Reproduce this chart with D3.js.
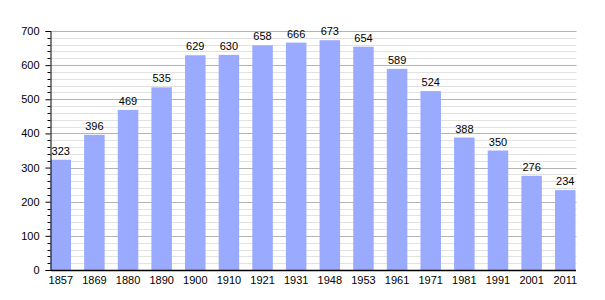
<!DOCTYPE html>
<html>
<head>
<meta charset="utf-8">
<script src="https://cdn.jsdelivr.net/npm/d3@7"></script>
<style>
  body { margin: 0; background: #fff; }
  text { font-family: "Liberation Sans", Arial, sans-serif; font-size: 11px; fill: #000; }
</style>
</head>
<body>
<svg id="chart" width="605" height="300"></svg>
<script>
// data
let years = ["1857", "1869", "1880", "1890", "1900", "1910", "1921", "1931", "1948", "1953", "1961", "1971", "1981", "1991", "2001", "2011"];
let population = [323, 396, 469, 535, 629, 630, 658, 666, 673, 654, 589, 524, 388, 350, 276, 234];
let yTicks = [0, 100, 200, 300, 400, 500, 600, 700];

let svg = d3.select("#chart");
let plotLeft = 50.5, plotRight = 575.5, plotTop = 31, plotBottom = 270;

let x = d3.scaleBand()
    .domain(years)
    .range([plotLeft, plotRight])
    .paddingInner(0.39)
    .paddingOuter(0);

let y = d3.scaleLinear()
    .domain([0, 700])
    .range([plotBottom, plotTop]);

// minor grid every 20
let minor = d3.range(20, 701, 20).filter(v => v % 100 != 0);
svg.append("g").selectAll("line")
    .data(minor)
    .enter().append("line")
    .attr("x1", plotLeft).attr("x2", plotRight + 1)
    .attr("y1", d => Math.round(y(d)) + 0.5)
    .attr("y2", d => Math.round(y(d)) + 0.5)
    .attr("stroke", "#e2e2e2");

// major grid
svg.append("g").selectAll("line")
    .data(yTicks.slice(1))
    .enter().append("line")
    .attr("x1", plotLeft).attr("x2", plotRight + 1)
    .attr("y1", d => Math.round(y(d)) + 0.5)
    .attr("y2", d => Math.round(y(d)) + 0.5)
    .attr("stroke", "#b4b4b4");

// bars
svg.append("g").selectAll("rect")
    .data(population)
    .enter().append("rect")
    .attr("x", (d, i) => x(years[i]))
    .attr("y", d => y(d))
    .attr("width", x.bandwidth())
    .attr("height", d => plotBottom - y(d))
    .attr("fill", "#9aabff");

// value labels
svg.append("g").selectAll("text")
    .data(population)
    .enter().append("text")
    .attr("x", (d, i) => x(years[i]) + x.bandwidth() / 2)
    .attr("y", d => y(d) - 5)
    .attr("text-anchor", "middle")
    .text(d => d);

// y axis
let yAxis = d3.axisLeft(y).tickValues(yTicks).tickSize(5).tickPadding(6);
let yg = svg.append("g")
    .attr("transform", `translate(${plotLeft},0)`)
    .call(yAxis);
yg.select(".domain").attr("stroke", "#000");
yg.selectAll(".tick line").attr("stroke", "#000");
yg.selectAll("text").style("font-size", "11px").attr("fill", "#000");

// minor ticks on y axis
svg.append("g").selectAll("line")
    .data(minor)
    .enter().append("line")
    .attr("x1", plotLeft - 3).attr("x2", plotLeft)
    .attr("y1", d => Math.round(y(d)) + 0.5)
    .attr("y2", d => Math.round(y(d)) + 0.5)
    .attr("stroke", "#000");

// x axis
let xAxis = d3.axisBottom(x).tickSize(0).tickPadding(6);
let xg = svg.append("g")
    .attr("transform", `translate(0,${plotBottom})`)
    .call(xAxis);
xg.select(".domain").attr("stroke", "#000").attr("stroke-width", 1.5);
xg.selectAll("text").style("font-size", "11px").attr("fill", "#000");
</script>
</body>
</html>
